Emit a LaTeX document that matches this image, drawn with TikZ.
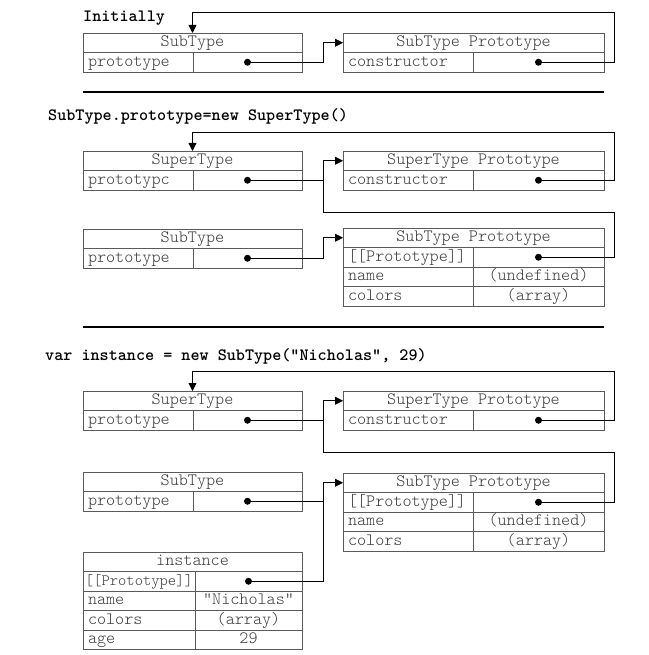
\documentclass[tikz,border=0pt]{standalone}
\usetikzlibrary{arrows.meta, positioning}
\definecolor{boxgray}{HTML}{5A5A5A}
\definecolor{txtgray}{HTML}{3A3A3A}
\newcommand{\cellfont}{\ttfamily\fontseries{l}\fontsize{17.3}{20}\selectfont}
\newcommand{\headfont}{\ttfamily\bfseries\fontsize{17.3}{20}\selectfont}

\begin{document}
\begin{tikzpicture}[
    x=1pt, y=-1pt,
    node distance=0pt,
    cell/.style={draw=boxgray, line width=0.8pt, inner sep=0pt, outer sep=0pt,
                 minimum height=19.5pt, text height=11.5pt, text depth=3.5pt,
                 font=\cellfont, text=txtgray},
    hdrcell/.style={cell, minimum width=#1},
    keycell/.style={cell, text width=#1, inner xsep=5pt, align=left},
    valcell/.style={cell, minimum width=#1},
    headline/.style={anchor=west, inner sep=0pt, font=\headfont},
    dot/.style={circle, fill=black, inner sep=0pt, minimum size=7pt},
    link/.style={-{Triangle[length=8pt, width=8pt]}, line width=0.9pt},
    wire/.style={line width=0.9pt},
    sepline/.style={line width=2pt},
]
    \useasboundingbox (0,0) rectangle (648,655);

    % --- Initially
    \node[headline] (t1) at (83,18) {Initially};
    \node[hdrcell=219, anchor=north west] (st1) at (83,33) {SubType};
    \node[keycell=100, below right=0pt and 0pt of st1.south west] (st1k) {prototype};
    \node[valcell=109, right=of st1k] (st1v) {};
    \node[dot] (st1d) at (st1v) {};

    \node[hdrcell=261, anchor=north west] (sp1) at (343,33) {SubType Prototype};
    \node[keycell=120, below right=0pt and 0pt of sp1.south west] (sp1k) {constructor};
    \node[valcell=131, right=of sp1k] (sp1v) {};
    \node[dot] (sp1d) at (sp1v) {};

    \coordinate (bus1) at (323,43);
    \draw[link] (st1d) -- (st1d -| bus1) |- (sp1.west);
    \draw[link] (sp1d) -- ++(75.5,0) |- ([yshift=21pt]st1.north) -- (st1.north);

    \draw[sepline] (83,92) -- (604,92);

    % --- SubType.prototype = new SuperType()
    \node[headline] (t2) at (48,116) {SubType.prototype=new SuperType()};
    \node[hdrcell=219, anchor=north west] (sup2) at (83,151) {SuperType};
    \node[keycell=100, below right=0pt and 0pt of sup2.south west] (sup2k) {prototypc};
    \node[valcell=109, right=of sup2k] (sup2v) {};
    \node[dot] (sup2d) at (sup2v) {};

    \node[hdrcell=261, anchor=north west] (spp2) at (343,151) {SuperType Prototype};
    \node[keycell=120, below right=0pt and 0pt of spp2.south west] (spp2k) {constructor};
    \node[valcell=131, right=of spp2k] (spp2v) {};
    \node[dot] (spp2d) at (spp2v) {};

    \node[hdrcell=219, anchor=north west] (sub2) at (83,229) {SubType};
    \node[keycell=100, below right=0pt and 0pt of sub2.south west] (sub2k) {prototype};
    \node[valcell=109, right=of sub2k] (sub2v) {};
    \node[dot] (sub2d) at (sub2v) {};

    \node[hdrcell=261, anchor=north west] (sbp2) at (343,228) {SubType Prototype};
    \node[keycell=120, below right=0pt and 0pt of sbp2.south west] (sbp2k1) {[[Prototype]]};
    \node[valcell=131, right=of sbp2k1] (sbp2v1) {};
    \node[dot] (sbp2d) at (sbp2v1) {};
    \node[keycell=120, below=of sbp2k1] (sbp2k2) {name};
    \node[valcell=131, right=of sbp2k2] (sbp2v2) {(undefined)};
    \node[keycell=120, below=of sbp2k2] (sbp2k3) {colors};
    \node[valcell=131, right=of sbp2k3] (sbp2v3) {(array)};

    \coordinate (bus2) at (323,212);
    \draw[link] (sbp2d) -- ++(75.5,0) |- (bus2) |- (spp2.west);
    \draw[wire] (sup2d) -- (sup2d -| bus2);
    \draw[link] (spp2d) -- ++(75.5,0) |- ([yshift=19pt]sup2.north) -- (sup2.north);
    \draw[link] (sub2d) -- (sub2d -| bus2) |- (sbp2.west);

    \draw[sepline] (83,327) -- (604,327);

    % --- var instance = new SubType(...)
    \node[headline] (t3) at (45,356) {var instance = new SubType("Nicholas", 29)};
    \node[hdrcell=219, anchor=north west] (sup3) at (83,391) {SuperType};
    \node[keycell=100, below right=0pt and 0pt of sup3.south west] (sup3k) {prototype};
    \node[valcell=109, right=of sup3k] (sup3v) {};
    \node[dot] (sup3d) at (sup3v) {};

    \node[hdrcell=261, anchor=north west] (spp3) at (343,391) {SuperType Prototype};
    \node[keycell=120, below right=0pt and 0pt of spp3.south west] (spp3k) {constructor};
    \node[valcell=131, right=of spp3k] (spp3v) {};
    \node[dot] (spp3d) at (spp3v) {};

    \node[hdrcell=219, anchor=north west] (sub3) at (83,472) {SubType};
    \node[keycell=100, below right=0pt and 0pt of sub3.south west] (sub3k) {prototype};
    \node[valcell=109, right=of sub3k] (sub3v) {};
    \node[dot] (sub3d) at (sub3v) {};

    \node[hdrcell=261, anchor=north west] (sbp3) at (343,473) {SubType Prototype};
    \node[keycell=120, below right=0pt and 0pt of sbp3.south west] (sbp3k1) {[[Prototype]]};
    \node[valcell=131, right=of sbp3k1] (sbp3v1) {};
    \node[dot] (sbp3d) at (sbp3v1) {};
    \node[keycell=120, below=of sbp3k1] (sbp3k2) {name};
    \node[valcell=131, right=of sbp3k2] (sbp3v2) {(undefined)};
    \node[keycell=120, below=of sbp3k2] (sbp3k3) {colors};
    \node[valcell=131, right=of sbp3k3] (sbp3v3) {(array)};

    \node[hdrcell=219, anchor=north west] (inst) at (83,552) {instance};
    \node[keycell=108, inner xsep=2pt, font=\ttfamily\fontseries{l}\fontsize{15.8}{18}\selectfont,
          below right=0pt and 0pt of inst.south west] (instk1) {[[Prototype]]};
    \node[valcell=107, right=of instk1] (instv1) {};
    \node[dot] (instd) at (instv1) {};
    \node[keycell=102, below=of instk1] (instk2) {name};
    \node[valcell=107, right=of instk2] (instv2) {"Nicholas"};
    \node[keycell=102, below=of instk2] (instk3) {colors};
    \node[valcell=107, right=of instk3] (instv3) {(array)};
    \node[keycell=102, below=of instk3] (instk4) {age};
    \node[valcell=107, right=of instk4] (instv4) {29};

    \coordinate (bus3) at (323,452);
    \draw[link] (sbp3d) -- ++(75.5,0) |- (bus3) |- (spp3.west);
    \draw[wire] (sup3d) -- (sup3d -| bus3);
    \draw[link] (spp3d) -- ++(75.5,0) |- ([yshift=20pt]sup3.north) -- (sup3.north);
    \draw[link] (instd) -- (instd -| bus3) |- (sbp3.west);
    \draw[wire] (sub3d) -- (sub3d -| bus3);
\end{tikzpicture}
\end{document}
